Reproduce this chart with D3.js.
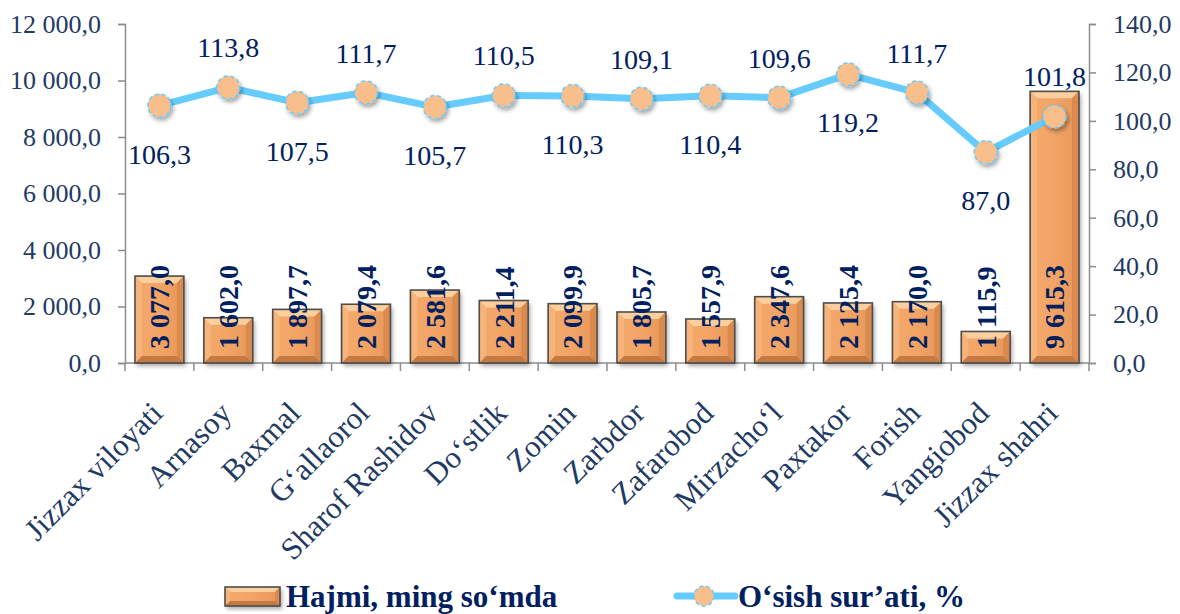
<!DOCTYPE html>
<html>
<head>
<meta charset="utf-8">
<script src="https://cdn.jsdelivr.net/npm/d3@7"></script>
<style>
  html, body { margin: 0; padding: 0; background: #fff; }
  svg { display: block; }
  text { font-family: "Liberation Serif", "Times New Roman", serif; }
</style>
</head>
<body>
<script>
// ---- data ----
const categories = ["Jizzax viloyati", "Arnasoy", "Baxmal", "G\u2018allaorol", "Sharof Rashidov", "Do\u2018stlik", "Zomin", "Zarbdor", "Zafarobod", "Mirzacho\u2018l", "Paxtakor", "Forish", "Yangiobod", "Jizzax shahri"];
const volume = [3077.0, 1602.0, 1897.7, 2079.4, 2581.6, 2211.4, 2099.9, 1805.7, 1557.9, 2347.6, 2125.4, 2170.0, 1115.9, 9615.3];
const growth = [106.3, 113.8, 107.5, 111.7, 105.7, 110.5, 110.3, 109.1, 110.4, 109.6, 119.2, 111.7, 87.0, 101.8];
const labelSide = ["below", "above", "below", "above", "below", "above", "below", "above", "below", "above", "below", "above", "below", "above"];
const leftTicks = [0, 2000, 4000, 6000, 8000, 10000, 12000];
const rightTicks = [0, 20, 40, 60, 80, 100, 120, 140];
const seriesNames = ["Hajmi, ming so\u2018mda", "O\u2018sish sur\u2019ati, %"];

// ---- layout ----
const W = 1180, H = 614;
const plot = { left: 125, right: 1089, top: 24, bottom: 363 };
const navy = "#002060", axisText = "#1F3B63", axisLine = "#8C8C8C";
const lineColor = "#66CCFF", markerFill = "#F8BE8C";

const loc = d3.formatLocale({ decimal: ",", thousands: " ", grouping: [3], currency: ["", ""] });
const fmt = loc.format(",.1f");

const svg = d3.select("body").append("svg").attr("width", W).attr("height", H);
const defs = svg.append("defs");
const sh = defs.append("filter").attr("id", "shadow").attr("x", "-30%").attr("y", "-30%").attr("width", "160%").attr("height", "160%");
sh.append("feDropShadow").attr("dx", 2).attr("dy", 3).attr("stdDeviation", 2).attr("flood-color", "#000").attr("flood-opacity", 0.35);

const faceGrad = defs.append("linearGradient").attr("id", "face").attr("x1", 0).attr("y1", 0).attr("x2", 1).attr("y2", 0);
faceGrad.append("stop").attr("offset", "0%").attr("stop-color", "#F3AA6C");
faceGrad.append("stop").attr("offset", "50%").attr("stop-color", "#F2A465");
faceGrad.append("stop").attr("offset", "100%").attr("stop-color", "#E8965A");

const x = d3.scaleBand().domain(categories).range([plot.left, plot.right]).paddingInner(0.29).paddingOuter(0.145);
const xStep = d3.scaleBand().domain(categories).range([plot.left, plot.right]);
const yL = d3.scaleLinear().domain([0, 12000]).range([plot.bottom, plot.top]);
const yR = d3.scaleLinear().domain([0, 140]).range([plot.bottom, plot.top]);

// ---- axes ----
const gL = svg.append("g").attr("transform", `translate(${plot.left},0)`)
  .call(d3.axisLeft(yL).tickValues(leftTicks).tickFormat(fmt).tickSize(7).tickPadding(17));
const gR = svg.append("g").attr("transform", `translate(${plot.right},0)`)
  .call(d3.axisRight(yR).tickValues(rightTicks).tickFormat(fmt).tickSize(7).tickPadding(17));
const gB = svg.append("g").attr("transform", `translate(0,${plot.bottom})`)
  .call(d3.axisBottom(xStep).tickSize(0).tickFormat(""));
[gL, gR, gB].forEach(g => {
  g.select(".domain").attr("stroke", axisLine).attr("stroke-width", 1.5);
  g.selectAll(".tick line").attr("stroke", axisLine).attr("stroke-width", 1.5);
  g.selectAll(".tick text").attr("fill", axisText).attr("font-size", 26)
    .style("font-family", "'Liberation Serif', serif");
});
gB.select(".domain").attr("d", `M${plot.left},0H${plot.right}`);
// category boundary ticks on the bottom axis
gB.selectAll(".sep").data(categories.concat(["end"])).join("line").attr("class", "sep")
  .attr("x1", (d, i) => i < categories.length ? xStep(d) : plot.right)
  .attr("x2", (d, i) => i < categories.length ? xStep(d) : plot.right)
  .attr("y1", 0).attr("y2", 8).attr("stroke", axisLine).attr("stroke-width", 1.5);

// category labels
svg.append("g").selectAll("text").data(categories).join("text")
  .attr("transform", d => `translate(${x(d) + x.bandwidth() / 2 + 5},${plot.bottom + 52}) rotate(-45)`)
  .attr("text-anchor", "end").attr("fill", axisText).attr("font-size", 31)
  .text(d => d);

// ---- bars ----
function bevelBar(g, x0, y0, w, h, b) {
  const x1 = x0 + w, y1 = y0 + h;
  b = Math.min(b, h / 2, w / 2);
  g.append("rect").attr("x", x0).attr("y", y0).attr("width", w).attr("height", h)
    .attr("fill", "url(#face)").attr("filter", "url(#shadow)");
  g.append("polygon").attr("points", [[x0, y0], [x1, y0], [x1 - b, y0 + b], [x0 + b, y0 + b]].join(" ")).attr("fill", "#FBCF9E");
  g.append("polygon").attr("points", [[x0, y0], [x0 + b, y0 + b], [x0 + b, y1 - b], [x0, y1]].join(" ")).attr("fill", "#F6B47A");
  g.append("polygon").attr("points", [[x1, y0], [x1 - b, y0 + b], [x1 - b, y1 - b], [x1, y1]].join(" ")).attr("fill", "#D98A4C");
  g.append("polygon").attr("points", [[x0, y1], [x0 + b, y1 - b], [x1 - b, y1 - b], [x1, y1]].join(" ")).attr("fill", "#C47A42");
  g.append("rect").attr("x", x0).attr("y", y0).attr("width", w).attr("height", h)
    .attr("fill", "none").attr("stroke", "#4D4D4D").attr("stroke-width", 1.6);
}
const barsG = svg.append("g");
categories.forEach((c, i) => {
  const g = barsG.append("g");
  bevelBar(g, x(c), yL(volume[i]), x.bandwidth(), yL(0) - yL(volume[i]), 7);
});

// bar labels
svg.append("g").selectAll("text").data(categories).join("text")
  .attr("transform", d => `translate(${x(d) + x.bandwidth() / 2},${plot.bottom - 14}) rotate(-90)`)
  .attr("dy", "0.35em").attr("text-anchor", "start")
  .attr("font-size", 28).attr("font-weight", "bold").attr("fill", navy)
  .text((d, i) => fmt(volume[i]));

// ---- line ----
const cx = c => x(c) + x.bandwidth() / 2;
const line = d3.line().x(d => cx(d.c)).y(d => yR(d.v));
const pts = categories.map((c, i) => ({ c, v: growth[i], side: labelSide[i] }));
svg.append("path").datum(pts).attr("d", line).attr("fill", "none")
  .attr("stroke", lineColor).attr("stroke-width", 7).attr("stroke-linejoin", "round");
svg.append("g").selectAll("circle").data(pts).join("circle")
  .attr("cx", d => cx(d.c)).attr("cy", d => yR(d.v)).attr("r", 11.5)
  .attr("fill", markerFill).attr("stroke", lineColor).attr("stroke-width", 1.5)
  .attr("stroke-dasharray", "4 3").attr("filter", "url(#shadow)");
svg.append("g").selectAll("text").data(pts).join("text")
  .attr("x", d => cx(d.c)).attr("y", d => yR(d.v) + (d.side === "above" ? -30 : 58))
  .attr("text-anchor", "middle").attr("font-size", 28).attr("fill", navy)
  .text(d => fmt(d.v));

// ---- legend ----
const leg = svg.append("g");
bevelBar(leg.append("g"), 225, 587, 55, 19, 5);
leg.append("text").attr("x", 286).attr("y", 607).attr("font-size", 31).attr("font-weight", "bold").attr("fill", navy).text(seriesNames[0]);
leg.append("line").attr("x1", 677).attr("x2", 735).attr("y1", 596).attr("y2", 596)
  .attr("stroke", lineColor).attr("stroke-width", 7).attr("stroke-linecap", "round");
leg.append("circle").attr("cx", 704).attr("cy", 596).attr("r", 10).attr("fill", markerFill)
  .attr("stroke", lineColor).attr("stroke-width", 1.5).attr("stroke-dasharray", "4 3");
leg.append("text").attr("x", 738).attr("y", 607).attr("font-size", 31).attr("font-weight", "bold").attr("fill", navy).text(seriesNames[1]);
</script>
</body>
</html>
